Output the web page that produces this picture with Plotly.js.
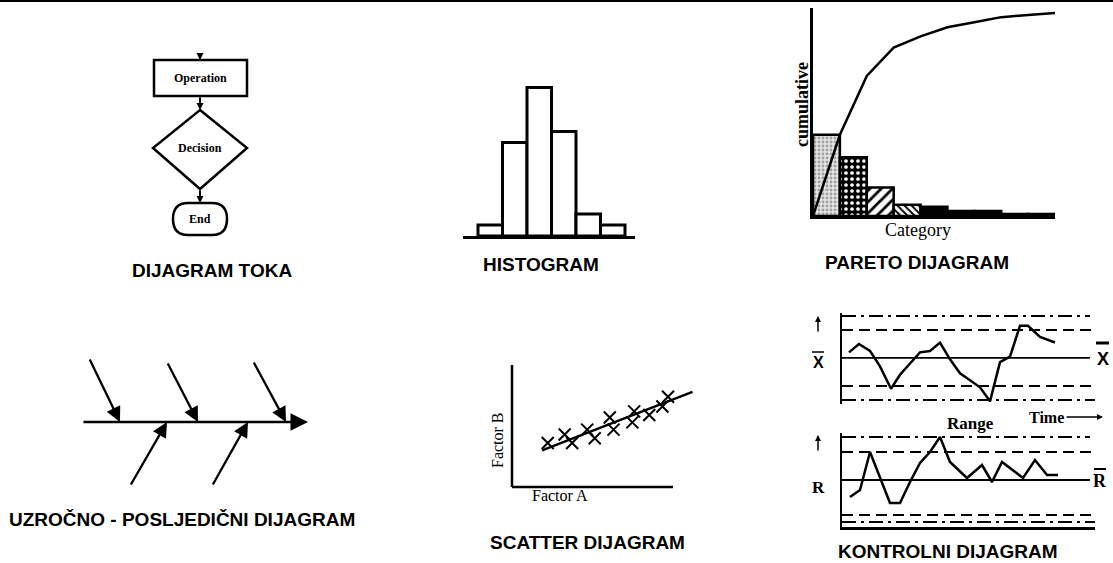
<!DOCTYPE html>
<html><head><meta charset="utf-8">
<script src="https://cdn.plot.ly/plotly-3.0.1.min.js"></script>
<style>html,body{margin:0;padding:0;background:#fff;overflow:hidden}#chart{width:1113px;height:563px}</style>
</head><body><div id="chart"></div>
<script>
// ---------- data ----------
const panelTitles = ['DIJAGRAM TOKA', 'HISTOGRAM', 'PARETO DIJAGRAM', 'UZROČNO - POSLJEDIČNI DIJAGRAM', 'SCATTER DIJAGRAM', 'KONTROLNI DIJAGRAM'];
const flowNodes = ['Operation', 'Decision', 'End'];
const histClasses = [1, 2, 3, 4, 5, 6];
const histCounts = [1, 8.5, 13.5, 9.5, 2, 1];
const paretoCategories = [1, 2, 3, 4, 5, 6, 7, 8, 9];
const paretoValues = [40, 29, 14, 5.5, 4.5, 2.5, 2.5, 1, 1];
const factorA = [1.9, 2.8, 3.2, 4.0, 4.4, 5.2, 5.4, 6.4, 6.5, 7.3, 8.0, 8.3];
const factorB = [3.6, 4.3, 3.6, 4.7, 4.0, 5.7, 4.7, 5.3, 6.2, 5.9, 6.6, 7.4];
const fitA = [1.6, 9.6];
const fitB = [3.0, 7.8];
const xbarTime = [1, 2, 3.1, 4.1, 5.2, 6.1, 7.1, 8.1, 9.1, 10.1, 11.1, 12.1, 13.1, 14.1, 15.1, 16.1, 17.1, 18.1, 18.9, 20.1, 21.6];
const xbarValues = [10.4, 11.0, 10.5, 9.4, 7.8, 8.8, 9.6, 10.4, 10.5, 11.1, 9.9, 8.9, 8.4, 7.9, 6.9, 9.7, 10.1, 12.3, 12.3, 11.5, 11.1];
const xbarLimits = [13, 12, 10, 8, 7];          // UCL, UWL, CL, LWL, LCL
const rTime = [1.1, 2.1, 3.1, 4.1, 5.1, 6.1, 7.1, 8.1, 9.1, 10.1, 11.1, 12.8, 14.3, 15.3, 16.3, 18.4, 19.6, 20.8, 21.9];
const rValues = [2.9, 3.6, 7.4, 4.8, 2.3, 2.3, 4.4, 6.3, 7.4, 8.9, 6.4, 4.8, 6.1, 4.4, 6.4, 4.8, 6.6, 5.1, 5.1];
const rLimits = [8.9, 7.4, 4.6, 1.1, 0.4];       // UCL, UWL, CL, LWL, LCL

// ---------- layout helpers ----------
const W = 1113, H = 563;
const xd = (a, b) => [a / W, b / W];
const yd = (t, b) => [1 - b / H, 1 - t / H];
const px = x => x / W, py = y => 1 - y / H;
const SERIF = 'Liberation Serif, Times New Roman, serif';
const SANS = 'Liberation Sans, Arial, sans-serif';
const BLK = '#000';

function hiddenAxis(domain, range, anchor, extra) {
  return Object.assign({domain, range, anchor, showgrid: false, zeroline: false, showticklabels: false,
    ticks: '', showline: false, fixedrange: true, visible: true}, extra || {});
}
function arrow(xref, yref, hx, hy, tx, ty, size, width) {
  return {xref, yref, axref: xref, ayref: yref, x: hx, y: hy, ax: tx, ay: ty, text: '', showarrow: true,
    arrowhead: 2, arrowsize: size, arrowwidth: width, arrowcolor: BLK, standoff: 0, startstandoff: 0};
}
function pxArrow(hx, hy, dx, dy, size, width) {
  return {xref: 'paper', yref: 'paper', x: px(hx), y: py(hy), ax: dx, ay: dy, text: '', showarrow: true,
    arrowhead: 2, arrowsize: size, arrowwidth: width, arrowcolor: BLK, standoff: 0};
}
function label(text, x, y, font, extra) {
  return Object.assign({xref: 'paper', yref: 'paper', x: px(x), y: py(y), text, showarrow: false,
    xanchor: 'center', yanchor: 'middle', font}, extra || {});
}

// ---------- traces ----------
const cumX = [0.5].concat(paretoCategories.map(c => c + 0.5));
const cumY = [0];
paretoValues.forEach(v => cumY.push(cumY[cumY.length - 1] + v));

// per-category fill styles of the Pareto bars
const paretoStyles = [
  {bg: '#e6e6e6', fg: '#a0a0a0', shape: '.', size: 4, solidity: 0.4},
  {bg: '#000000', fg: '#ffffff', shape: '.', size: 6, solidity: 0.3},
  {bg: '#ffffff', fg: '#000000', shape: '/', size: 8, solidity: 0.35},
  {bg: '#ffffff', fg: '#000000', shape: '\\', size: 5, solidity: 0.4},
  {bg: '#000000', fg: '#000000', shape: '', size: 8, solidity: 0.3}
];
const traces = [
  {type: 'bar', x: histClasses, y: histCounts, xaxis: 'x2', yaxis: 'y2', width: 1,
   marker: {color: '#fff', line: {color: BLK, width: 3}}, hoverinfo: 'skip'}
];
paretoCategories.forEach((c, i) => {
  const s = paretoStyles[Math.min(i, paretoStyles.length - 1)];
  traces.push({type: 'bar', x: [c], y: [paretoValues[i]], xaxis: 'x3', yaxis: 'y3', width: 1,
    marker: {color: s.bg, line: {color: BLK, width: 2.5},
      pattern: {shape: s.shape, bgcolor: s.bg, fgcolor: s.fg, size: s.size, solidity: s.solidity, fillmode: 'replace'}},
    hoverinfo: 'skip'});
});
traces.push(
  {type: 'scatter', mode: 'lines', x: cumX, y: cumY, xaxis: 'x3', yaxis: 'y3',
   line: {color: BLK, width: 2.5}, hoverinfo: 'skip'},
  {type: 'scatter', mode: 'lines', x: fitA, y: fitB, xaxis: 'x5', yaxis: 'y5',
   line: {color: BLK, width: 2.5}, hoverinfo: 'skip'},
  {type: 'scatter', mode: 'markers', x: factorA, y: factorB, xaxis: 'x5', yaxis: 'y5',
   marker: {symbol: 'x-thin', size: 12, color: BLK, line: {color: BLK, width: 2}}, hoverinfo: 'skip'},
  {type: 'scatter', mode: 'lines', x: xbarTime, y: xbarValues, xaxis: 'x6', yaxis: 'y6',
   line: {color: BLK, width: 2.5}, hoverinfo: 'skip'},
  {type: 'scatter', mode: 'lines', x: rTime, y: rValues, xaxis: 'x7', yaxis: 'y7',
   line: {color: BLK, width: 2.5}, hoverinfo: 'skip'}
);

// ---------- shapes ----------
const shapes = [];
// top border
shapes.push({type: 'line', xref: 'paper', yref: 'paper', x0: 0, x1: 1, y0: py(1), y1: py(1), line: {color: BLK, width: 2}});
// flowchart (axis x/y, 10 px per unit)
shapes.push({type: 'rect', xref: 'x', yref: 'y', x0: -4.6, x1: 4.7, y0: -1.5, y1: -5.1, line: {color: BLK, width: 2.5}, fillcolor: '#fff'});
shapes.push({type: 'path', xref: 'x', yref: 'y', path: 'M 0,-6.5 L 4.7,-10.3 L 0,-14.4 L -4.7,-10.3 Z', line: {color: BLK, width: 2.5}, fillcolor: '#fff'});
shapes.push({type: 'path', xref: 'x', yref: 'y',
  path: 'M -1.2,-15.8 L 1.2,-15.8 Q 2.7,-15.8 2.7,-17.4 Q 2.7,-19.0 1.2,-19.0 L -1.2,-19.0 Q -2.7,-19.0 -2.7,-17.4 Q -2.7,-15.8 -1.2,-15.8 Z',
  line: {color: BLK, width: 2.5}, fillcolor: '#fff'});
// scatter axes
shapes.push({type: 'line', xref: 'x5 domain', yref: 'y5 domain', x0: 0, x1: 0, y0: 0, y1: 1, line: {color: BLK, width: 2.5}});
shapes.push({type: 'line', xref: 'x5 domain', yref: 'y5 domain', x0: 0, x1: (673 - 512) / (700 - 512), y0: 0, y1: 0, line: {color: BLK, width: 2.5}});
// control limits
const limStyles = [
  {dash: '14px,5px,3px,5px', end: 0.98, width: 2},
  {dash: '11px,6px', end: 1, width: 2},
  {dash: 'solid', end: 0.98, width: 1.8},
  {dash: '11px,6px', end: 1, width: 2},
  {dash: '14px,5px,3px,5px', end: 1, width: 2}
];
xbarLimits.forEach((v, i) => shapes.push({type: 'line', xref: 'x6 domain', yref: 'y6', x0: 0, x1: limStyles[i].end, y0: v, y1: v,
  line: {color: BLK, width: limStyles[i].width, dash: limStyles[i].dash}}));
rLimits.forEach((v, i) => shapes.push({type: 'line', xref: 'x7 domain', yref: 'y7', x0: 0, x1: limStyles[i].end, y0: v, y1: v,
  line: {color: BLK, width: limStyles[i].width, dash: limStyles[i].dash}}));
// overline bars for X-bar / R-bar
const bar = (x0, x1, y, w) => ({type: 'line', xref: 'paper', yref: 'paper', x0: px(x0), x1: px(x1), y0: py(y), y1: py(y), line: {color: BLK, width: w}});
shapes.push(bar(812, 824, 352, 1.5));
shapes.push(bar(1096, 1109, 343, 3));
shapes.push(bar(1094, 1106, 469, 2));

// ---------- annotations ----------
const ann = [];
// flowchart
const flowY = [-3.3, -10.3, -17.4];
flowNodes.forEach((n, i) => ann.push({xref: 'x', yref: 'y', x: 0, y: flowY[i], text: n, showarrow: false,
  font: {family: SERIF, size: 12, color: BLK, weight: 'bold'}}));
ann.push(arrow('x', 'y', 0, -1.5, 0, -0.7, 0.7, 2));
ann.push(arrow('x', 'y', 0, -6.5, 0, -5.1, 0.7, 2));
ann.push(arrow('x', 'y', 0, -15.8, 0, -14.4, 0.7, 2));
// fishbone (axis x4/y4, 10 px per unit)
ann.push(arrow('x4', 'y4', 22.8, 0, 0.2, 0, 1.4, 2.5));
[[4.0, 0.9, 6.4], [11.8, 8.7, 6.0], [20.6, 17.3, 6.1]].forEach(c => ann.push(arrow('x4', 'y4', c[0], 0, c[1], c[2], 1.3, 2.3)));
[[8.7, 5.0], [16.8, 13.2]].forEach(c => ann.push(arrow('x4', 'y4', c[0], 0, c[1], -6.4, 1.3, 2.3)));
// pareto texts
ann.push(label('cumulative', 802, 105, {family: SERIF, size: 18, color: BLK, weight: 'bold'}, {textangle: -90}));
ann.push(label('Category', 918, 230, {family: SERIF, size: 18, color: BLK}));
// scatter texts
ann.push(label('Factor B', 497, 440, {family: SERIF, size: 16, color: BLK}, {textangle: -90}));
ann.push(label('Factor A', 560, 495, {family: SERIF, size: 16, color: BLK}));
// control chart texts
ann.push(label('Range', 970, 423, {family: SERIF, size: 17, color: BLK, weight: 'bold'}));
ann.push(label('Time', 1046, 417, {family: SERIF, size: 16, color: BLK, weight: 'bold'}));
ann.push(pxArrow(1103, 417, -38, 0, 0.8, 1.5));
ann.push(pxArrow(818, 316, 0, 17, 0.8, 1.5));
ann.push(pxArrow(818, 435, 0, 17, 0.8, 1.5));
ann.push(label('X', 818, 362, {family: SANS, size: 16, color: BLK, weight: 'bold'}));
ann.push(label('R', 818, 487, {family: SERIF, size: 17, color: BLK, weight: 'bold'}));
ann.push(label('X', 1103, 359, {family: SANS, size: 18, color: BLK, weight: 'bold'}));
ann.push(label('R', 1100, 481, {family: SERIF, size: 18, color: BLK, weight: 'bold'}));
// panel titles
const titlePos = [[212, 271], [541, 264], [917, 262], [182, 519], [587, 542], [948, 551]];
panelTitles.forEach((t, i) => ann.push(label(t, titlePos[i][0], titlePos[i][1], {family: SANS, size: 19, color: BLK, weight: 'bold'})));

// ---------- layout ----------
const layout = {
  width: W, height: H, margin: {l: 0, r: 0, t: 0, b: 0}, paper_bgcolor: '#fff', plot_bgcolor: 'rgba(0,0,0,0)',
  showlegend: false, bargap: 0, barmode: 'overlay', hovermode: false,
  xaxis: hiddenAxis(xd(140, 260), [-6, 6], 'y'),
  yaxis: hiddenAxis(yd(45, 245), [-20, 0], 'x'),
  xaxis2: hiddenAxis(xd(463, 635), [-0.112, 6.908], 'y2', {showline: true, linecolor: BLK, linewidth: 3}),
  yaxis2: hiddenAxis(yd(60, 236), [0, 16], 'x2'),
  xaxis3: hiddenAxis(xd(813, 1055), [0.5, 9.5], 'y3', {showline: true, linecolor: BLK, linewidth: 3}),
  yaxis3: hiddenAxis(yd(8, 216), [0, 102.5], 'x3', {showline: true, linecolor: BLK, linewidth: 3}),
  xaxis4: hiddenAxis(xd(80, 312), [0, 23.2], 'y4'),
  yaxis4: hiddenAxis(yd(355, 490), [-6.8, 6.7], 'x4'),
  xaxis5: hiddenAxis(xd(512, 700), [0, 10], 'y5'),
  yaxis5: hiddenAxis(yd(365, 487), [0, 10], 'x5'),
  xaxis6: hiddenAxis(xd(842, 1095), [0.3, 25.6], 'y6'),
  yaxis6: hiddenAxis(yd(313, 404), [6.71, 13.21], 'x6', {showline: true, linecolor: BLK, linewidth: 2.5}),
  xaxis7: hiddenAxis(xd(842, 1095), [0.3, 25.6], 'y7', {showline: true, linecolor: BLK, linewidth: 2.5}),
  yaxis7: hiddenAxis(yd(433, 527), [-0.1, 9.3], 'x7', {showline: true, linecolor: BLK, linewidth: 2.5}),
  shapes, annotations: ann
};
Plotly.newPlot('chart', traces, layout, {staticPlot: true, displayModeBar: false});
</script></body></html>
